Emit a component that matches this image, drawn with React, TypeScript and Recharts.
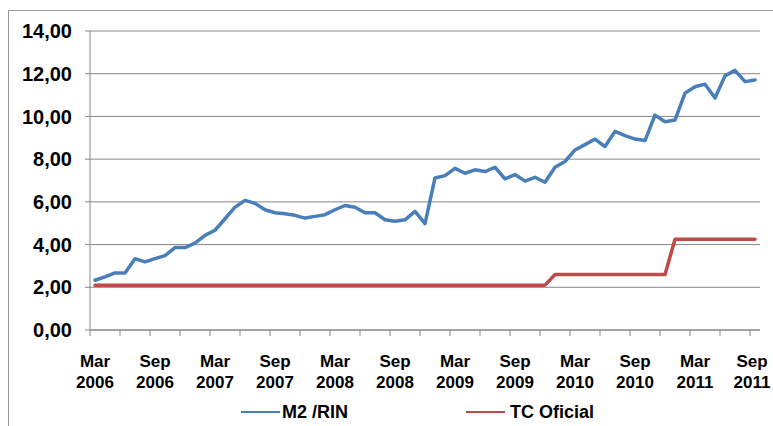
import React from 'react';
import { LineChart, Line, XAxis, YAxis, CartesianGrid, Legend } from 'recharts';

const MONTH_NAMES = ['Jan', 'Feb', 'Mar', 'Apr', 'May', 'Jun', 'Jul', 'Aug', 'Sep', 'Oct', 'Nov', 'Dec'];
const START_YEAR = 2006;
const START_MONTH = 2; // March

const m2Rin = [
  2.33, 2.49, 2.67, 2.67, 3.34, 3.19, 3.34, 3.48, 3.86, 3.86,
  4.07, 4.43, 4.67, 5.21, 5.75, 6.07, 5.93, 5.63, 5.49, 5.44,
  5.37, 5.24, 5.32, 5.40, 5.63, 5.83, 5.75, 5.49, 5.49, 5.16,
  5.09, 5.16, 5.55, 4.98, 7.12, 7.23, 7.57, 7.34, 7.50, 7.42,
  7.62, 7.08, 7.28, 6.97, 7.15, 6.92, 7.62, 7.89, 8.43, 8.68,
  8.94, 8.59, 9.30, 9.10, 8.94, 8.87, 10.06, 9.75, 9.83, 11.09,
  11.39, 11.51, 10.86, 11.90, 12.16, 11.63, 11.71,
];

const tcOficial = [
  2.10, 2.10, 2.10, 2.10, 2.10, 2.10, 2.10, 2.10, 2.10, 2.10,
  2.10, 2.10, 2.10, 2.10, 2.10, 2.10, 2.10, 2.10, 2.10, 2.10,
  2.10, 2.10, 2.10, 2.10, 2.10, 2.10, 2.10, 2.10, 2.10, 2.10,
  2.10, 2.10, 2.10, 2.10, 2.10, 2.10, 2.10, 2.10, 2.10, 2.10,
  2.10, 2.10, 2.10, 2.10, 2.10, 2.10, 2.60, 2.60, 2.60, 2.60,
  2.60, 2.60, 2.60, 2.60, 2.60, 2.60, 2.60, 2.60, 4.25, 4.25,
  4.25, 4.25, 4.25, 4.25, 4.25, 4.25, 4.25,
];

const yTicks = [0, 2, 4, 6, 8, 10, 12, 14];

const categories = m2Rin.map((_, i) => {
  const k = START_MONTH + i;
  return `${MONTH_NAMES[k % 12]} ${START_YEAR + Math.floor(k / 12)}`;
});

const data = categories.map((c, i) => ({ period: c, m2: m2Rin[i], tc: tcOficial[i] }));

const tickCats = categories.filter((_, i) => i % 3 === 0);
const labelCats = new Set(categories.filter((_, i) => i % 6 === 0));
const lastCat = categories[categories.length - 1];

const W = 765;
const H = 418;
const MARGIN = { top: 23, right: 13, bottom: 12, left: 0 };
const Y_W = 82;
const PLOT_W = W - MARGIN.left - MARGIN.right - Y_W;
const HALF_BAND = PLOT_W / categories.length / 2;

const GRID = '#878787';
const BLUE = '#4a7ebb';
const RED = '#be4b48';
const FONT = '"Liberation Sans", Arial, sans-serif';

const XTick = (props: any) => {
  const { x, y, payload } = props;
  const v: string = payload.value;
  const [mon, yr] = v.split(' ');
  const tx = x - HALF_BAND;
  const lx = v === lastCat ? x - 3 : x;
  return (
    <g>
      <line x1={tx} y1={y} x2={tx} y2={y + 6} stroke={GRID} strokeWidth={1} />
      {labelCats.has(v) && (
        <text x={lx} y={y + 37} textAnchor="middle" fontFamily={FONT} fontWeight="bold" fontSize={17} fill="#000">
          <tspan x={lx}>{mon}</tspan>
          <tspan x={lx} dy={21}>{yr}</tspan>
        </text>
      )}
    </g>
  );
};

const LegendContent = () => (
  <div style={{ position: 'relative', width: W, height: 24, fontFamily: FONT, fontWeight: 'bold', fontSize: 18, color: '#000' }}>
    <div style={{ position: 'absolute', left: 233, top: 11, width: 39, height: 2, background: BLUE }} />
    <div style={{ position: 'absolute', left: 274, top: 1, lineHeight: '22px', whiteSpace: 'nowrap' }}>M2 /RIN</div>
    <div style={{ position: 'absolute', left: 458, top: 11, width: 39, height: 2, background: RED }} />
    <div style={{ position: 'absolute', left: 502, top: 1, lineHeight: '22px', whiteSpace: 'nowrap' }}>TC Oficial</div>
  </div>
);

export default function App() {
  return (
    <div style={{ position: 'fixed', left: 8, top: 8, width: W, height: H, overflow: 'hidden', background: '#fff' }}>
      <div
        style={{
          position: 'absolute', left: 0, top: 2, width: W + 50, height: H + 50,
          borderLeft: '1px solid #9a9a9a', borderTop: '1px solid #9a9a9a', boxSizing: 'border-box',
        }}
      />
      <LineChart width={W} height={H} data={data} margin={MARGIN} style={{ overflow: 'visible' }}>
        <CartesianGrid horizontal vertical={false} stroke={GRID} strokeWidth={1} />
        <XAxis
          dataKey="period"
          type="category"
          scale="point"
          padding={{ left: HALF_BAND, right: HALF_BAND }}
          ticks={tickCats}
          interval={0}
          height={60}
          tickLine={false}
          tickSize={0}
          tickMargin={0}
          axisLine={{ stroke: GRID, strokeWidth: 1 }}
          tick={<XTick />}
        />
        <YAxis
          width={Y_W}
          domain={[0, 14]}
          ticks={yTicks}
          interval={0}
          tickSize={5}
          tickMargin={13}
          axisLine={{ stroke: GRID, strokeWidth: 1 }}
          tickLine={{ stroke: GRID, strokeWidth: 1 }}
          tickFormatter={(v: number) => v.toFixed(2).replace('.', ',')}
          tick={{ fill: '#000', fontFamily: FONT, fontWeight: 'bold', fontSize: 20 }}
        />
        <Legend
          verticalAlign="bottom"
          content={<LegendContent />}
          wrapperStyle={{ position: 'absolute', top: 392, left: 0, width: W, height: 24 }}
        />
        <Line
          type="linear"
          dataKey="m2"
          name="M2 /RIN"
          stroke={BLUE}
          strokeWidth={3.5}
          strokeLinejoin="round"
          strokeLinecap="round"
          dot={false}
          activeDot={false}
          isAnimationActive={false}
        />
        <Line
          type="linear"
          dataKey="tc"
          name="TC Oficial"
          stroke={RED}
          strokeWidth={3.5}
          strokeLinejoin="round"
          strokeLinecap="round"
          dot={false}
          activeDot={false}
          isAnimationActive={false}
        />
      </LineChart>
    </div>
  );
}
